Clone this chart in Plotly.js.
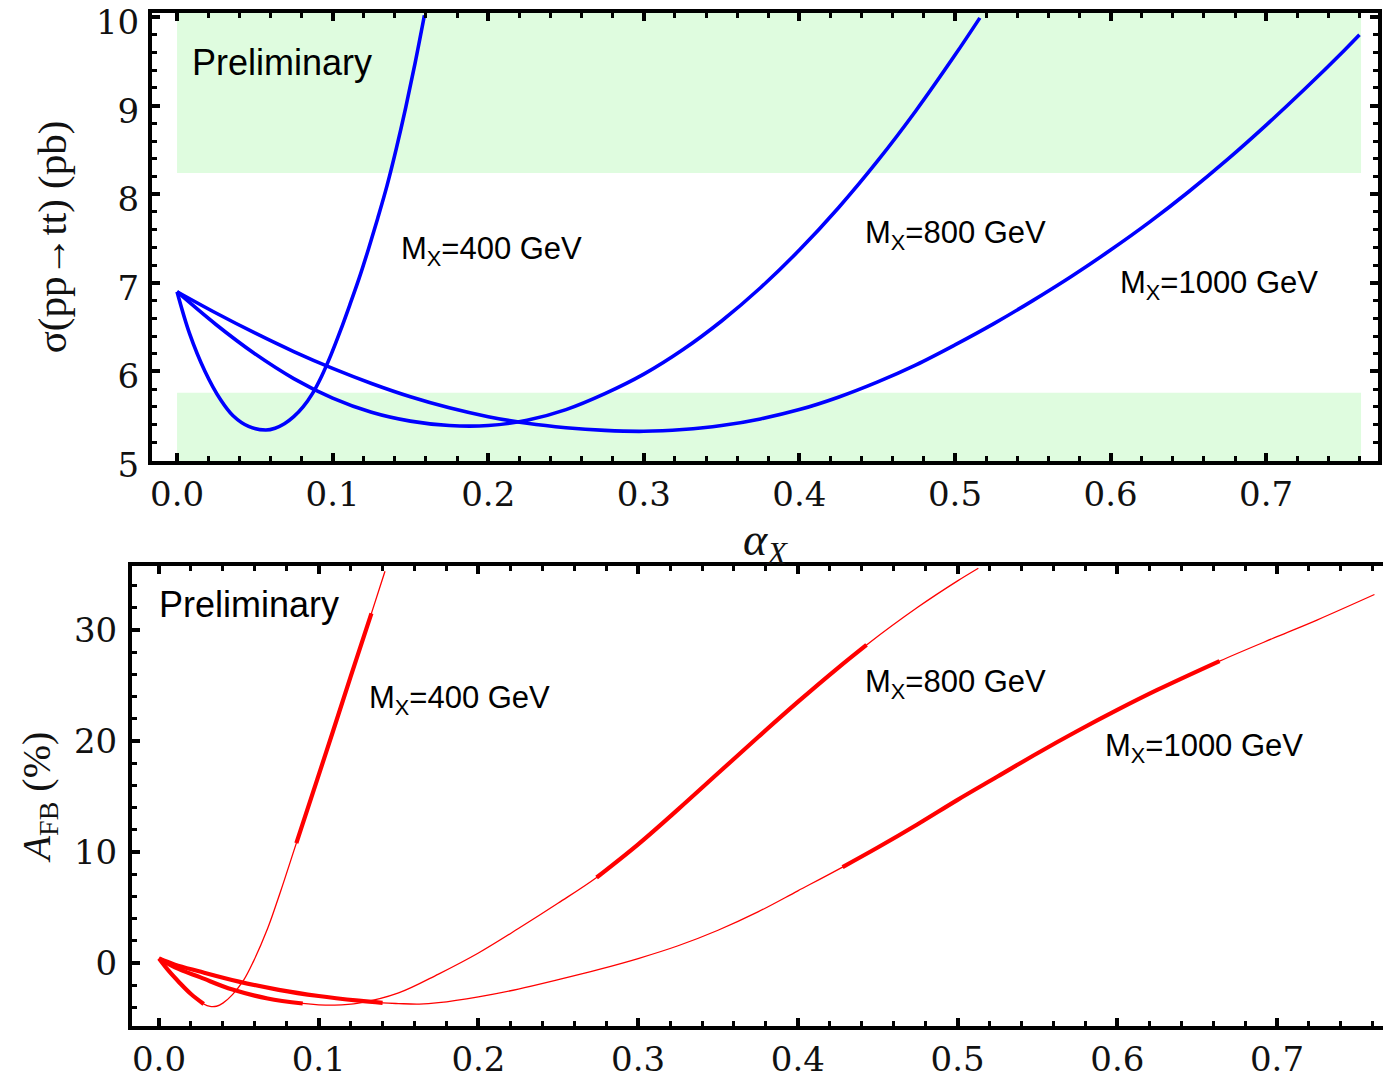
<!DOCTYPE html>
<html>
<head>
<meta charset="utf-8">
<script src="https://cdn.plot.ly/plotly-3.0.1.min.js"></script>
<style>
html,body{margin:0;padding:0;overflow:hidden;background:#fff;}
#chart{width:1400px;height:1082px;}
</style>
</head>
<body>
<div id="chart"></div>
<script>
// ---------- data: cross section sigma(pp->tt) [pb] vs alpha_X ----------
const sig400_x  = [0, 0.008, 0.018, 0.028, 0.036, 0.046, 0.057, 0.063, 0.069, 0.075, 0.081, 0.087, 0.093, 0.099, 0.105, 0.111, 0.117, 0.123, 0.129, 0.135, 0.141, 0.147, 0.153, 0.159];
const sig400_y  = [6.9, 6.43, 6.0, 5.68, 5.5, 5.38, 5.34, 5.36, 5.41, 5.49, 5.6, 5.75, 5.95, 6.19, 6.46, 6.75, 7.05, 7.38, 7.73, 8.1, 8.52, 8.98, 9.48, 10.02];
const sig800_x  = [0, 0.025, 0.05, 0.075, 0.1, 0.125, 0.15, 0.175, 0.2, 0.225, 0.25, 0.275, 0.3, 0.325, 0.35, 0.375, 0.4, 0.425, 0.45, 0.475, 0.5, 0.516];
const sig800_y  = [6.9, 6.53, 6.2, 5.92, 5.70, 5.54, 5.44, 5.39, 5.39, 5.45, 5.57, 5.75, 5.97, 6.245, 6.57, 6.945, 7.37, 7.845, 8.37, 8.945, 9.57, 9.99];
const sig1000_x = [0, 0.025, 0.05, 0.075, 0.1, 0.125, 0.15, 0.175, 0.2, 0.225, 0.25, 0.275, 0.3, 0.325, 0.35, 0.375, 0.4, 0.425, 0.45, 0.475, 0.5, 0.525, 0.55, 0.575, 0.6, 0.625, 0.65, 0.675, 0.7, 0.725, 0.75, 0.76];
const sig1000_y = [6.9, 6.66, 6.435, 6.225, 6.035, 5.865, 5.715, 5.59, 5.49, 5.415, 5.365, 5.335, 5.325, 5.345, 5.39, 5.465, 5.57, 5.71, 5.88, 6.075, 6.3, 6.54, 6.8, 7.075, 7.37, 7.685, 8.025, 8.39, 8.78, 9.19, 9.62, 9.8];

// measured bands (green)
const band_x    = [0, 0.761];
const band_low  = [4.99, 5.76];
const band_high = [8.24, 10.05];

// ---------- data: A_FB [%] vs alpha_X ----------
const afb400_x  = [0, 0.006, 0.013, 0.02, 0.028, 0.032, 0.036, 0.04, 0.046, 0.053, 0.059, 0.068, 0.076, 0.086, 0.099, 0.109, 0.12, 0.133, 0.1415];
const afb400_y  = [0.4, -0.7, -1.8, -2.8, -3.7, -3.92, -3.9, -3.62, -2.85, -1.55, 0.1, 3.1, 6.4, 10.8, 16.5, 20.9, 25.8, 31.5, 35.3];
const afb800_x  = [0, 0.01, 0.026, 0.046, 0.068, 0.09, 0.1, 0.11, 0.125, 0.15, 0.175, 0.2, 0.225, 0.25, 0.274, 0.3, 0.325, 0.35, 0.375, 0.4, 0.425, 0.443, 0.475, 0.5, 0.513];
const afb800_y  = [0.4, -0.4, -1.3, -2.4, -3.2, -3.65, -3.77, -3.8, -3.62, -2.7, -1.0, 0.9, 3.1, 5.4, 7.7, 10.69, 13.84, 17.09, 20.34, 23.52, 26.57, 28.66, 32.05, 34.43, 35.57];
const afb1000_x = [0, 0.01, 0.025, 0.05, 0.075, 0.1, 0.125, 0.14, 0.15, 0.163, 0.175, 0.2, 0.225, 0.25, 0.275, 0.3, 0.325, 0.35, 0.375, 0.4, 0.428, 0.45, 0.475, 0.5, 0.525, 0.55, 0.575, 0.6, 0.625, 0.664, 0.7, 0.725, 0.761];
const afb1000_y = [0.4, -0.15, -0.75, -1.68, -2.42, -2.98, -3.4, -3.6, -3.66, -3.7, -3.58, -3.05, -2.35, -1.5, -0.6, 0.4, 1.55, 2.95, 4.6, 6.5, 8.64, 10.4, 12.5, 14.7, 16.8, 18.9, 20.9, 22.8, 24.6, 27.2, 29.4, 30.9, 33.2];
// alpha_X ranges drawn thick (sigma inside the allowed region)
const afb400_thick  = [[0, 0.028], [0.086, 0.133]];
const afb800_thick  = [[0, 0.09], [0.274, 0.443]];
const afb1000_thick = [[0, 0.14], [0.428, 0.664]];

const massLabels = ['M<sub>X</sub>=400 GeV', 'M<sub>X</sub>=800 GeV', 'M<sub>X</sub>=1000 GeV'];
const prelimText = 'Preliminary';
const xTicks = [0, 0.1, 0.2, 0.3, 0.4, 0.5, 0.6, 0.7];
const sigTicks = [5, 6, 7, 8, 9, 10];
const afbTicks = [0, 10, 20, 30];

// ---------- traces ----------
const BLUE = '#0000ff', RED = '#ff0000';
function sigTrace(x, y) {
  return {x: x, y: y, xaxis: 'x', yaxis: 'y', type: 'scatter', mode: 'lines',
          line: {color: BLUE, width: 3.6, shape: 'spline', smoothing: 1}, hoverinfo: 'skip'};
}
function afbThin(x, y) {
  return {x: x, y: y, xaxis: 'x2', yaxis: 'y2', type: 'scatter', mode: 'lines',
          line: {color: RED, width: 1.3, shape: 'spline', smoothing: 1}, hoverinfo: 'skip'};
}
function afbThick(x, y, ranges) {
  return ranges.map(r => {
    const xs = [], ys = [];
    x.forEach((v, i) => { if (v >= r[0] - 1e-9 && v <= r[1] + 1e-9) { xs.push(v); ys.push(y[i]); } });
    return {x: xs, y: ys, xaxis: 'x2', yaxis: 'y2', type: 'scatter', mode: 'lines',
            line: {color: RED, width: 4.2, shape: 'spline', smoothing: 1}, hoverinfo: 'skip'};
  });
}

const data = [
  sigTrace(sig400_x, sig400_y),
  sigTrace(sig800_x, sig800_y),
  sigTrace(sig1000_x, sig1000_y),
  afbThin(afb400_x, afb400_y),
  afbThin(afb800_x, afb800_y),
  afbThin(afb1000_x, afb1000_y),
  ...afbThick(afb400_x, afb400_y, afb400_thick),
  ...afbThick(afb800_x, afb800_y, afb800_thick),
  ...afbThick(afb1000_x, afb1000_y, afb1000_thick)
];

// ---------- layout ----------
const TICKFONT = {family: 'DejaVu Serif', size: 34, color: '#111'};
function axisBase(extra) {
  return Object.assign({
    showline: true, linewidth: 4, linecolor: '#000', mirror: 'allticks',
    ticks: 'inside', ticklen: 8, tickwidth: 4, tickcolor: '#000',
    showgrid: false, zeroline: false, tickfont: TICKFONT, automargin: false,
    ticklabeloverflow: 'allow'
  }, extra);
}
const MINOR = (d) => ({ticks: 'inside', ticklen: 5, tickwidth: 3, tickcolor: '#000', dtick: d, tick0: 0, showgrid: false});

// plotting area: x 132..1400 px, y 13..1026 px
const PL = 132, PW = 1268, PT = 13, PH = 1013;
const layout = {
  width: 1400, height: 1082,
  margin: {l: PL, r: 0, t: PT, b: 1082 - PT - PH},
  paper_bgcolor: '#fff', plot_bgcolor: 'rgba(0,0,0,0)',
  showlegend: false,
  xaxis: axisBase({
    anchor: 'y', domain: [(152 - PL) / PW, (1378 - PL) / PW], range: [-0.0161, 0.7719],
    tickvals: xTicks, tickformat: '.1f', ticklabelstandoff: 0,
    minor: MINOR(0.02),
    title: {text: '<i>α</i><sub><i>X</i></sub>', standoff: 2,
            font: {family: 'Liberation Serif', size: 46, color: '#111'}}
  }),
  yaxis: axisBase({
    anchor: 'x', domain: [(PT + PH - 461) / PH, 1], range: [4.99, 10.045],
    tickvals: sigTicks, ticklabelstandoff: 2, ticklabelshift: 5,
    minor: MINOR(0.2),
    title: {text: 'σ(pp→tt) (pb)', standoff: 18,
            font: {family: 'Liberation Serif', size: 41, color: '#111'}}
  }),
  xaxis2: axisBase({
    anchor: 'y2', domain: [0, 1], range: [-0.0169, 0.777],
    tickvals: xTicks, tickformat: '.1f', ticklabelstandoff: 0,
    minor: MINOR(0.02)
  }),
  yaxis2: axisBase({
    anchor: 'x2', domain: [0, (PT + PH - 566) / PH], range: [-5.68, 35.77],
    tickvals: afbTicks, ticklabelstandoff: 4,
    minor: MINOR(2),
    title: {text: '<i>A</i><sub>FB</sub> (%)', standoff: 12,
            font: {family: 'Liberation Serif', size: 40, color: '#111'}}
  }),
  shapes: [
    {type: 'rect', xref: 'x', yref: 'y', x0: band_x[0], x1: band_x[1], y0: band_low[0], y1: band_low[1],
     fillcolor: '#dffcdf', line: {width: 0}, layer: 'below'},
    {type: 'rect', xref: 'x', yref: 'y', x0: band_x[0], x1: band_x[1], y0: band_high[0], y1: band_high[1],
     fillcolor: '#dffcdf', line: {width: 0}, layer: 'below'}
  ],
  annotations: []
};

const ANNFONT = {family: 'Liberation Sans, Arial, sans-serif', size: 31, color: '#000'};
function ann(xr, yr, x, y, text, size) {
  return {xref: xr, yref: yr, x: x, y: y, text: text, showarrow: false,
          xanchor: 'left', yanchor: 'middle', font: Object.assign({}, ANNFONT, size ? {size: size} : {})};
}
layout.annotations.push(
  ann('x', 'y', 0.008, 9.49, prelimText, 36),
  ann('x', 'y', 0.1427, 7.36, massLabels[0]),
  ann('x', 'y', 0.441, 7.54, massLabels[1]),
  ann('x', 'y', 0.605, 6.98, massLabels[2]),
  ann('x2', 'y2', -0.001, 32.3, prelimText, 36),
  ann('x2', 'y2', 0.130, 23.7, massLabels[0]),
  ann('x2', 'y2', 0.441, 25.1, massLabels[1]),
  ann('x2', 'y2', 0.591, 19.4, massLabels[2])
);

Plotly.newPlot('chart', data, layout, {staticPlot: true, displayModeBar: false});
</script>
</body>
</html>
